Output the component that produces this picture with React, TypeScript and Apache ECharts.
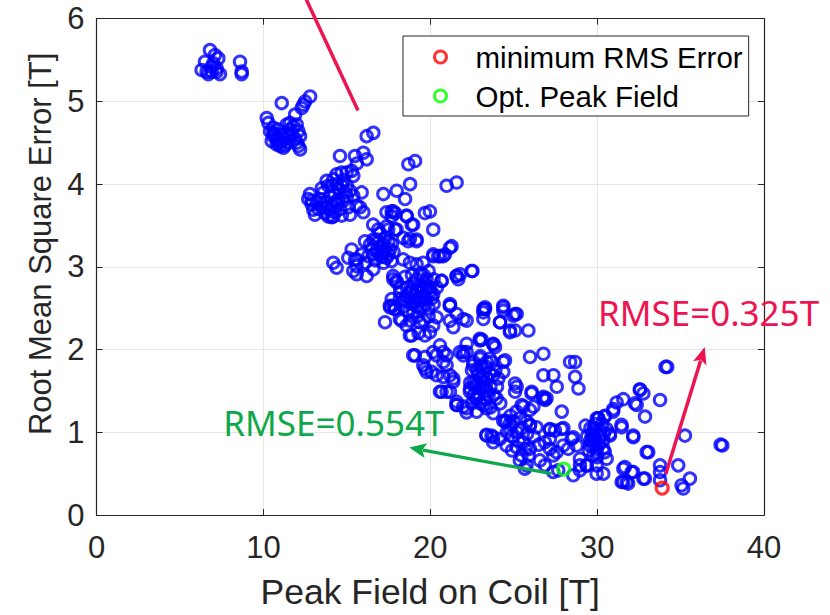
import React, { useEffect, useRef } from "react";
import * as echarts from "echarts";

// ---- data ----
const xRange = [0, 40];
const yRange = [0, 6];
const xTickStep = 10;
const yTickStep = 1;

const seriesNames = ["minimum RMS Error", "Opt. Peak Field"];

// all design cases: [peak field on coil (T), RMS error (T)]
const clusterTopLeft: number[][] = [
  [6.8, 5.62], [7.1, 5.56], [6.5, 5.48], [7.3, 5.52], [6.3, 5.38], [6.6, 5.36], [6.9, 5.42], [7.2, 5.36],
  [7.4, 5.33], [7.0, 5.46], [6.7, 5.33], [8.6, 5.48], [8.7, 5.36], [8.7, 5.33], [7.2, 5.4], [6.9, 5.36],
];
const clusterUpper: number[][] = [
  [10.2, 4.8], [10.3, 4.74], [11.1, 4.98], [10.4, 4.64], [10.6, 4.58], [10.8, 4.54], [11.1, 4.52], [11.0, 4.46],
  [11.2, 4.44], [11.4, 4.72], [11.6, 4.74], [11.8, 4.7], [11.9, 4.84], [12.1, 4.64], [12.2, 4.58], [12.1, 4.46],
  [12.2, 4.42], [12.3, 4.92], [12.5, 5.0], [12.8, 5.06], [11.4, 4.62], [11.7, 4.6], [11.5, 4.5], [12.0, 4.72],
  [10.6, 4.68], [10.9, 4.66], [10.9, 4.5], [11.3, 4.55], [10.7, 4.6], [11.6, 4.66], [12.4, 4.96],
  [10.5, 4.52], [10.8, 4.48], [11.2, 4.6], [11.5, 4.58], [11.9, 4.55], [12.0, 4.5], [11.3, 4.47], [10.6, 4.62],
];
const clusterMidHigh: number[][] = [
  [12.79, 3.88], [12.69, 3.82], [12.89, 3.76], [12.99, 3.69], [13.09, 3.63], [13.79, 4.04], [13.89, 3.98],
  [14.19, 4.06], [14.39, 4.12], [14.69, 4.14], [14.99, 4.14], [15.29, 4.16], [15.39, 4.1], [14.59, 4.34],
  [15.49, 4.34], [15.99, 4.38], [16.19, 4.3], [16.19, 4.58], [16.59, 4.62], [15.89, 3.9], [15.79, 3.72],
  [15.99, 3.66], [13.39, 3.82], [13.69, 3.78], [13.99, 3.69], [14.19, 3.61], [14.39, 3.76], [14.79, 3.8],
  [15.09, 3.72], [15.19, 3.63], [15.39, 3.86], [15.59, 3.74], [14.49, 3.94], [14.19, 3.9], [14.99, 3.98],
  [15.19, 3.92], [13.89, 3.61], [14.09, 3.6], [14.0, 3.85], [14.6, 3.7], [13.6, 3.9], [14.4, 4.0], [15.0, 3.85],
  [13.3, 3.7], [14.8, 4.05], [15.6, 4.25], [14.3, 3.78],
  [12.9, 3.8], [13.2, 3.78], [13.5, 3.72], [13.8, 3.72], [14.1, 3.75], [14.5, 3.82], [14.9, 3.9], [13.7, 3.65],
  [14.3, 3.66], [14.7, 3.62], [13.5, 3.95], [14.1, 3.98], [14.7, 3.98],
  [17.19, 3.88], [17.99, 3.92], [18.79, 4.0], [18.49, 3.82], [18.69, 4.24], [19.09, 4.28], [18.59, 3.61],
  [18.89, 3.51], [17.69, 3.67], [17.89, 3.65], [20.98, 3.98], [21.58, 4.02], [19.68, 3.65], [19.98, 3.67],
  [20.18, 3.45], [18.78, 3.34], [19.18, 3.31], [21.18, 3.23], [20.58, 3.13], [20.18, 3.13], [20.78, 3.13],
  [22.48, 2.95], [21.58, 2.89], [21.68, 2.85], [20.68, 2.83], [24.38, 2.47], [25.08, 2.43], [23.28, 2.49],
];
const clusterMid: number[][] = [
  [17.38, 3.66], [17.78, 3.67], [18.58, 3.62], [18.98, 3.51], [16.58, 3.51], [16.88, 3.45], [17.48, 3.45],
  [17.98, 3.45], [18.38, 3.35], [18.68, 3.31], [19.18, 3.33], [16.09, 3.31], [16.39, 3.27], [16.79, 3.33],
  [17.18, 3.27], [17.58, 3.21], [15.29, 3.21], [15.09, 3.11], [15.59, 3.09], [15.89, 3.15], [16.29, 3.13],
  [16.99, 3.15], [17.38, 3.11], [17.68, 3.07], [14.19, 3.05], [14.39, 2.99], [15.39, 2.95], [15.59, 2.91],
  [16.19, 2.89], [16.59, 2.97], [17.78, 2.89], [17.98, 2.83], [18.38, 3.09], [18.78, 3.05], [19.18, 3.03],
  [19.58, 3.05], [20.18, 3.15], [20.48, 3.13], [20.88, 3.15], [21.28, 3.25], [19.78, 2.85], [19.48, 2.77],
  [19.18, 2.71], [19.98, 2.75], [20.68, 2.83], [21.58, 2.89], [21.78, 2.91], [22.53, 2.95], [17.58, 2.53],
  [18.18, 2.61], [18.58, 2.65], [19.08, 2.57], [19.78, 2.61], [20.18, 2.67], [21.18, 2.55], [23.28, 2.51],
  [24.38, 2.53], [17.0, 3.25], [17.3, 3.2], [16.8, 3.2], [17.5, 3.3], [19.5, 2.7], [19.8, 2.75], [19.6, 2.65],
  [20.0, 2.7], [19.4, 2.6], [16.6, 3.15], [17.2, 3.05],
  [15.49, 3.09], [15.59, 3.01], [16.09, 3.05], [16.59, 3.33], [16.99, 3.41], [17.19, 3.17], [17.39, 3.49],
  [17.69, 3.61], [17.89, 3.45], [17.79, 2.85], [17.99, 2.81], [17.69, 2.61], [17.89, 2.49], [18.19, 2.69],
  [16.5, 3.22], [16.9, 3.3], [17.3, 3.35], [17.7, 3.28], [16.7, 3.08], [17.1, 3.12], [17.5, 3.15], [17.8, 3.18],
  [18.2, 2.75], [18.5, 2.88], [18.9, 2.9], [19.2, 2.85], [19.6, 2.9], [19.9, 2.95], [20.2, 2.85], [20.4, 2.75],
  [18.4, 2.52], [18.8, 2.62], [19.2, 2.52], [19.7, 2.55], [20.1, 2.62], [19.4, 2.92], [18.9, 2.72], [19.7, 2.8],
];
const clusterMidLow: number[][] = [
  [17.29, 2.33], [17.6, 2.51], [17.89, 2.49], [18.38, 2.59], [18.78, 2.69], [19.38, 2.77], [18.98, 2.45],
  [18.28, 2.35], [18.58, 2.29], [18.88, 2.17], [19.68, 2.17], [20.18, 2.29], [20.38, 2.39], [21.18, 2.53],
  [21.58, 2.43], [22.18, 2.35], [21.18, 2.35], [21.38, 2.27], [23.18, 2.49], [23.18, 2.37], [24.38, 2.51],
  [24.18, 2.33], [24.98, 2.41], [24.78, 2.23], [25.08, 2.23], [25.88, 2.23], [23.08, 2.12], [23.78, 2.06],
  [23.88, 2.03], [19.08, 1.93], [19.68, 1.91], [20.38, 1.93], [20.98, 1.93], [21.98, 1.93], [22.18, 2.07],
  [19.68, 1.77], [20.08, 1.73], [20.78, 1.67], [21.18, 1.69], [21.38, 1.61], [20.58, 1.49], [21.18, 1.49],
  [21.58, 1.37], [21.98, 1.31], [22.38, 1.49], [22.98, 1.53], [23.38, 1.85], [23.58, 1.71], [24.08, 1.65],
  [24.48, 1.87], [24.38, 1.73], [25.08, 1.59], [25.08, 1.49], [25.98, 1.91], [26.78, 1.95], [26.78, 1.69],
  [27.38, 1.69], [27.58, 1.55], [28.38, 1.85], [28.68, 1.85], [28.68, 1.67], [28.88, 1.53], [26.08, 1.49],
  [26.78, 1.43], [26.88, 1.39], [25.48, 1.33], [26.18, 1.31], [27.88, 1.25], [22.78, 1.41], [23.18, 1.33],
  [23.78, 1.23], [24.48, 1.13], [24.98, 1.13], [25.78, 1.13], [25.98, 1.09], [27.18, 1.03], [27.98, 1.05],
  [29.98, 1.17], [29.78, 1.01], [22.8, 1.75], [23.0, 1.65], [22.6, 1.6], [23.2, 1.6], [22.9, 1.45],
  [23.4, 1.5], [22.7, 1.55], [18.5, 2.6], [18.9, 2.55], [19.1, 2.65], [18.6, 2.75], [19.0, 2.8], [19.3, 2.6],
  [18.7, 2.45], [19.4, 2.5], [19.9, 2.5], [20.2, 2.55],
  [17.78, 2.53], [18.18, 2.37], [18.78, 2.17], [18.98, 1.93], [19.58, 1.81], [19.78, 1.73], [20.68, 1.49],
  [21.58, 1.33], [22.18, 1.24], [23.37, 0.96], [23.77, 0.88], [21.18, 2.53], [21.98, 2.37], [22.97, 2.13],
  [23.57, 1.89], [20.98, 1.49], [21.38, 1.65], [20.18, 1.97], [20.58, 2.05], [19.98, 2.21], [19.38, 2.33],
  [20.38, 1.69], [20.98, 1.81], [21.98, 1.97], [22.57, 1.81], [23.17, 1.69], [22.38, 1.53], [22.77, 1.41],
  [23.37, 1.29], [23.97, 1.41], [23.18, 2.45], [25.18, 2.43], [24.18, 2.33], [24.78, 2.21], [22.98, 2.11],
  [23.77, 2.07], [25.18, 1.55], [26.07, 1.47], [26.77, 1.41], [21.78, 1.97], [20.78, 1.85],
  [18.8, 2.35], [19.2, 2.4], [19.6, 2.35], [19.9, 2.4], [19.3, 2.2],
  [22.6, 1.85], [23.0, 1.92], [23.4, 1.65], [23.6, 1.55], [23.8, 1.45], [24.0, 1.55], [23.7, 1.85], [23.9, 1.75],
  [22.9, 1.7], [23.3, 1.4], [22.5, 1.35], [23.6, 1.3], [24.2, 1.35],
];
const clusterLow: number[][] = [
  [26.97, 1.41], [25.57, 1.31], [25.97, 1.27], [25.17, 1.25], [25.37, 1.17], [24.57, 1.14], [24.77, 1.1],
  [25.97, 1.08], [26.37, 1.06], [27.17, 1.04], [27.47, 1.02], [27.87, 1.04], [28.57, 0.94], [28.47, 0.92],
  [28.77, 0.84], [28.97, 0.68], [23.37, 0.97], [23.77, 0.94], [24.17, 0.92], [24.57, 0.84], [25.17, 0.82],
  [25.57, 0.88], [25.97, 0.8], [25.37, 0.66], [25.77, 0.6], [26.57, 0.66], [26.87, 0.6], [27.37, 0.52],
  [27.67, 0.54], [27.17, 0.8], [27.57, 0.76], [27.97, 0.84], [28.27, 0.8], [28.57, 0.48], [28.97, 0.54],
  [29.37, 0.6], [29.67, 0.96], [29.77, 0.84], [29.97, 0.76], [30.37, 0.8], [30.57, 0.68], [29.97, 0.6],
  [30.37, 0.5], [29.97, 0.5], [30.57, 1.04], [30.77, 0.96], [30.07, 1.17], [30.47, 1.2], [30.97, 1.28],
  [31.17, 1.36], [31.57, 1.4], [31.47, 1.06], [32.17, 0.94], [32.57, 1.51], [32.77, 1.47], [32.37, 1.33],
  [32.87, 1.19], [33.77, 1.39], [32.97, 0.76], [31.57, 0.56], [32.07, 0.52], [31.77, 0.4], [31.47, 0.4],
  [32.77, 0.44], [33.77, 0.6], [33.77, 0.52], [20.78, 1.97], [22.18, 1.97], [22.98, 1.89], [23.37, 1.79],
  [23.77, 1.69], [24.37, 1.85], [21.58, 1.33], [22.18, 1.29], [22.78, 1.25], [23.67, 0.96], [24.37, 1.14],
  [24.77, 1.04], [25.47, 0.72], [25.67, 0.56], [26.87, 0.88], [27.17, 0.92], [27.37, 0.72], [22.5, 1.75],
  [23.0, 1.8], [22.8, 1.6], [23.2, 1.55], [22.6, 1.45], [23.5, 1.45], [23.0, 1.35], [22.4, 1.6], [29.8, 1.05],
  [29.9, 0.9], [30.2, 0.95], [29.6, 0.9], [30.0, 0.7], [30.3, 1.1],
  [34.1, 1.79], [34.2, 1.79], [32.56, 1.52], [32.26, 1.35], [30.96, 1.25], [30.46, 1.19], [30.06, 1.17],
  [31.46, 1.09], [32.16, 0.96], [30.76, 0.98], [30.36, 0.9], [29.77, 0.94], [29.57, 0.84], [29.97, 0.8],
  [29.77, 0.72], [30.46, 0.76], [28.97, 0.6], [29.37, 0.6], [31.66, 0.58], [32.16, 0.52], [31.56, 0.4],
  [31.86, 0.38], [32.86, 0.44], [33.06, 0.76], [33.77, 0.42], [35.26, 0.96], [34.86, 0.6], [35.56, 0.44],
  [35.06, 0.36], [35.16, 0.32], [37.4, 0.85], [37.5, 0.84],
  [24.6, 1.0], [24.9, 0.95], [25.2, 1.0], [25.5, 1.05], [25.8, 0.98], [24.9, 0.78], [25.3, 0.9], [25.7, 0.8],
  [24.8, 1.2], [25.9, 0.72], [26.2, 0.95], [26.5, 0.85],
  [29.4, 0.95], [29.6, 1.05], [29.9, 1.1], [30.2, 1.02], [29.5, 0.78], [29.8, 0.98], [30.1, 0.85], [30.4, 0.98],
  [29.3, 1.08],
];

const minRmsPoint: number[][] = [[33.9, 0.325]];
const optPeakPoint: number[][] = [[28.0, 0.554]];

// annotations (data coordinates)
const redLabel = { text: "RMSE=0.325T", at: [30.05, 2.66] };
const greenLabel = { text: "RMSE=0.554T", at: [7.6, 1.335] };
const redArrow = { from: [34.12, 0.5], to: [36.45, 2.03] };
const greenArrow = { from: [27.27, 0.5], to: [18.74, 0.815] };
const redTopLine = { from: [12.3, 6.35], to: [15.67, 4.89] };

const allCases = [
  ...clusterTopLeft, ...clusterUpper, ...clusterMidHigh, ...clusterMid, ...clusterMidLow, ...clusterLow,
];

const RED = "#ff0000";
const GREEN = "#00ff00";
const BLUE = "#0000ff";
const ANN_RED = "#ee1452";
const ANN_GREEN = "#0ea84a";
const AXIS_COLOR = "#262626";
const FONT = "'Liberation Sans', Arial, Helvetica, sans-serif";

function arrowElements(from: number[], to: number[], color: string, width: number, headLen: number, headHalf: number, withHead: boolean) {
  const [x1, y1] = from;
  const [x2, y2] = to;
  const dx = x2 - x1;
  const dy = y2 - y1;
  const len = Math.hypot(dx, dy) || 1;
  const ux = dx / len;
  const uy = dy / len;
  const nx = -uy;
  const ny = ux;
  const els: any[] = [];
  if (!withHead) {
    els.push({ type: "line", z: 100, silent: true, shape: { x1, y1, x2, y2 }, style: { stroke: color, lineWidth: width } });
    return els;
  }
  const bx = x2 - ux * headLen;
  const by = y2 - uy * headLen;
  els.push({ type: "line", z: 100, silent: true, shape: { x1, y1, x2: bx + ux * 3, y2: by + uy * 3 }, style: { stroke: color, lineWidth: width } });
  els.push({
    type: "polygon",
    z: 101,
    silent: true,
    shape: {
      points: [
        [x2, y2],
        [bx + nx * headHalf, by + ny * headHalf],
        [x2 - ux * headLen * 0.78, y2 - uy * headLen * 0.78],
        [bx - nx * headHalf, by - ny * headHalf],
      ],
    },
    style: { fill: color },
  });
  return els;
}

export default function App() {
  const ref = useRef<HTMLDivElement>(null);

  useEffect(() => {
    if (!ref.current) return;
    const chart = echarts.init(ref.current, null, { renderer: "svg" });

    const axisCommon = {
      type: "value" as const,
      axisLine: { show: true, onZero: false, lineStyle: { color: AXIS_COLOR, width: 1.2 } },
      axisTick: { show: true, inside: true, length: 6, lineStyle: { color: AXIS_COLOR, width: 1 } },
    };

    const option: any = {
      animation: false,
      backgroundColor: "#ffffff",
      grid: { left: 96.5, right: 66, top: 18.7, bottom: 98.3, containLabel: false },
      legend: {
        show: true,
        data: [
          { name: seriesNames[0], icon: "circle", itemStyle: { color: "rgba(0,0,0,0)", borderColor: RED, borderWidth: 3 } },
          { name: seriesNames[1], icon: "circle", itemStyle: { color: "rgba(0,0,0,0)", borderColor: GREEN, borderWidth: 3 } },
        ],
        orient: "vertical",
        left: 403,
        top: 36,
        itemWidth: 12,
        itemHeight: 12,
        itemGap: 7,
        padding: [5, 6, 4, 30],
        borderColor: AXIS_COLOR,
        borderWidth: 1,
        backgroundColor: "#ffffff",
        selectedMode: false,
        textStyle: { fontSize: 29.5, color: "#000000", fontFamily: FONT, padding: [0, 0, 0, 24], lineHeight: 32 },
      },
      xAxis: [
        {
          ...axisCommon,
          position: "bottom",
          min: xRange[0],
          max: xRange[1],
          interval: xTickStep,
          splitLine: { show: true, lineStyle: { color: "#e6e6e6", width: 1 } },
          axisLabel: { show: true, color: AXIS_COLOR, fontSize: 31, fontFamily: FONT, margin: 17 },
          name: "Peak Field on Coil [T]",
          nameLocation: "middle",
          nameGap: 59,
          nameTextStyle: { color: AXIS_COLOR, fontSize: 35.5, fontFamily: FONT },
        },
        {
          ...axisCommon,
          position: "top",
          min: xRange[0],
          max: xRange[1],
          interval: xTickStep,
          splitLine: { show: false },
          axisLabel: { show: false },
        },
      ],
      yAxis: [
        {
          ...axisCommon,
          position: "left",
          min: yRange[0],
          max: yRange[1],
          interval: yTickStep,
          splitLine: { show: true, lineStyle: { color: "#e6e6e6", width: 1 } },
          axisLabel: { show: true, color: AXIS_COLOR, fontSize: 31, fontFamily: FONT, margin: 12 },
          name: "Root Mean Square Error [T]",
          nameLocation: "middle",
          nameGap: 40,
          nameTextStyle: { color: AXIS_COLOR, fontSize: 31, fontFamily: FONT, padding: [0, 0, 0, 46] },
        },
        {
          ...axisCommon,
          position: "right",
          min: yRange[0],
          max: yRange[1],
          interval: yTickStep,
          splitLine: { show: false },
          axisLabel: { show: false },
        },
      ],
      series: [
        {
          name: "cases",
          type: "scatter",
          xAxisIndex: 0,
          yAxisIndex: 0,
          data: allCases,
          symbol: "circle",
          symbolSize: 11.5,
          itemStyle: { color: "rgba(0,0,0,0)", borderColor: BLUE, borderWidth: 3 },
          emphasis: { disabled: true },
          z: 2,
        },
        {
          name: seriesNames[0],
          type: "scatter",
          xAxisIndex: 0,
          yAxisIndex: 0,
          data: minRmsPoint,
          symbol: "circle",
          symbolSize: 12,
          itemStyle: { color: "rgba(0,0,0,0)", borderColor: RED, borderWidth: 3.2 },
          emphasis: { disabled: true },
          z: 3,
        },
        {
          name: seriesNames[1],
          type: "scatter",
          xAxisIndex: 0,
          yAxisIndex: 0,
          data: optPeakPoint,
          symbol: "circle",
          symbolSize: 12,
          itemStyle: { color: "rgba(0,0,0,0)", borderColor: GREEN, borderWidth: 3.2 },
          emphasis: { disabled: true },
          z: 3,
        },
      ],
    };

    chart.setOption(option);

    const px = (p: number[]) => chart.convertToPixel({ xAxisIndex: 0, yAxisIndex: 0 }, p) as number[];

    const elements: any[] = [
      ...arrowElements(px(redTopLine.from), px(redTopLine.to), ANN_RED, 3.5, 0, 0, false),
      ...arrowElements(px(redArrow.from), px(redArrow.to), ANN_RED, 3.5, 17, 7, true),
      ...arrowElements(px(greenArrow.from), px(greenArrow.to), ANN_GREEN, 3.2, 17, 7.5, true),
    ];
    const rp = px(redLabel.at);
    const gp = px(greenLabel.at);
    elements.push({
      type: "text",
      z: 102,
      silent: true,
      x: rp[0],
      y: rp[1],
      style: { text: redLabel.text, fill: ANN_RED, fontSize: 35, fontFamily: "'Noto Sans', sans-serif", align: "left", verticalAlign: "top" },
    });
    elements.push({
      type: "text",
      z: 102,
      silent: true,
      x: gp[0],
      y: gp[1],
      style: { text: greenLabel.text, fill: ANN_GREEN, fontSize: 35, fontFamily: "'Noto Sans', sans-serif", align: "left", verticalAlign: "top" },
    });

    chart.setOption({ graphic: { elements } });

    return () => {
      chart.dispose();
    };
  }, []);

  return <div ref={ref} style={{ position: "fixed", left: 0, top: 0, width: 830, height: 615, background: "#fff" }} />;
}
